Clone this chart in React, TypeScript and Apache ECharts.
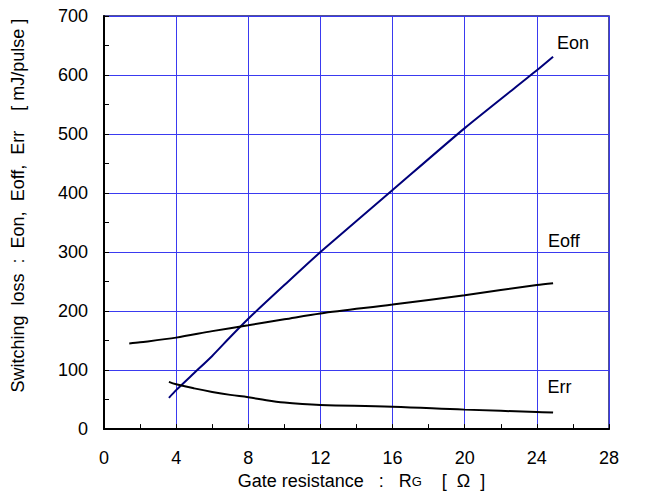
import React, { useEffect, useRef } from "react";
import * as echarts from "echarts";

const eonX = [3.6, 4, 5, 6, 7, 8, 10, 12, 16, 20, 24, 24.9];
const eonY = [53, 66, 95, 124, 156, 187, 244, 300, 405, 510, 608, 631];
const eoffX = [1.4, 2, 4, 6, 8, 10, 12, 16, 20, 24, 24.9];
const eoffY = [145, 147, 155, 166, 176, 186, 196, 211, 227, 244, 247];
const errX = [3.6, 4, 5, 6, 7, 8, 9, 10, 11, 12, 16, 20, 24, 24.9];
const errY = [80, 76, 69, 63, 58, 54, 49, 45, 42.5, 41, 38, 33, 29, 28];

const xTicks = [0, 4, 8, 12, 16, 20, 24, 28];
const yTicks = [0, 100, 200, 300, 400, 500, 600, 700];

const FONT = "Liberation Sans, Arial, sans-serif";

export default function App() {
  const ref = useRef<HTMLDivElement>(null);
  useEffect(() => {
    document.body.style.margin = "0";
    const chart = echarts.init(ref.current!, null, { renderer: "svg" });
    const pair = (xs: number[], ys: number[]) => xs.map((x, i) => [x, ys[i]]);
    const labelPoint = (name: string, coord: number[]) => ({
      symbol: "circle",
      symbolSize: 1,
      itemStyle: { color: "rgba(0,0,0,0)" },
      label: {
        show: true,
        formatter: name,
        color: "#000",
        fontSize: 18,
        fontFamily: FONT,
        position: "inside",
      },
      data: [{ coord }],
    });
    chart.setOption({
      animation: false,
      backgroundColor: "#fff",
      grid: {
        left: 104,
        right: 42,
        top: 16,
        bottom: 65,
        show: true,
        borderColor: "#1a1a70",
        borderWidth: 1.5,
      },
      xAxis: {
        type: "value",
        min: xTicks[0],
        max: xTicks[xTicks.length - 1],
        interval: 4,
        name: "  Gate resistance   :   R{s|G}    [  Ω  ]",
        nameLocation: "middle",
        nameGap: 42,
        nameTextStyle: {
          color: "#000",
          fontSize: 18,
          fontFamily: FONT,
          rich: { s: { fontSize: 13, fontFamily: FONT, color: "#000" } },
        },
        axisLine: { show: true, lineStyle: { color: "#000", width: 2 } },
        axisTick: { show: true, inside: true, length: 5, lineStyle: { color: "#000", width: 1 } },
        minorTick: { show: true, splitNumber: 2, length: 5, lineStyle: { color: "#000", width: 1 } },
        axisLabel: { color: "#000", fontSize: 18, fontFamily: FONT, margin: 20 },
        splitLine: { show: true, lineStyle: { color: "#3a3af0", width: 1 } },
      },
      yAxis: {
        type: "value",
        min: yTicks[0],
        max: yTicks[yTicks.length - 1],
        interval: 100,
        name: "Switching  loss  :  Eon,  Eoff,  Err    [ mJ/pulse ]",
        nameLocation: "middle",
        nameGap: 77,
        nameTextStyle: { color: "#000", fontSize: 18, fontFamily: FONT, padding: [0, 0, 0, 34] },
        axisLine: { show: true, lineStyle: { color: "#000", width: 2 } },
        axisTick: { show: true, inside: true, length: 5, lineStyle: { color: "#000", width: 1 } },
        minorTick: { show: true, splitNumber: 2, length: 5, lineStyle: { color: "#000", width: 1 } },
        axisLabel: { color: "#000", fontSize: 18, fontFamily: FONT, margin: 16 },
        splitLine: { show: true, lineStyle: { color: "#3a3af0", width: 1 } },
      },
      series: [
        {
          type: "line",
          name: "Eon",
          data: pair(eonX, eonY),
          showSymbol: false,
          smooth: 0.2,
          lineStyle: { color: "#00007a", width: 2 },
          markPoint: labelPoint("Eon", [26.0, 654]),
        },
        {
          type: "line",
          name: "Eoff",
          data: pair(eoffX, eoffY),
          showSymbol: false,
          smooth: 0.3,
          lineStyle: { color: "#000", width: 2 },
          markPoint: labelPoint("Eoff", [25.5, 318]),
        },
        {
          type: "line",
          name: "Err",
          data: pair(errX, errY),
          showSymbol: false,
          smooth: 0.4,
          lineStyle: { color: "#000", width: 2 },
          markPoint: labelPoint("Err", [25.25, 72]),
        },
      ],
    });
    return () => chart.dispose();
  }, []);
  return <div ref={ref} style={{ width: 651, height: 495 }} />;
}
